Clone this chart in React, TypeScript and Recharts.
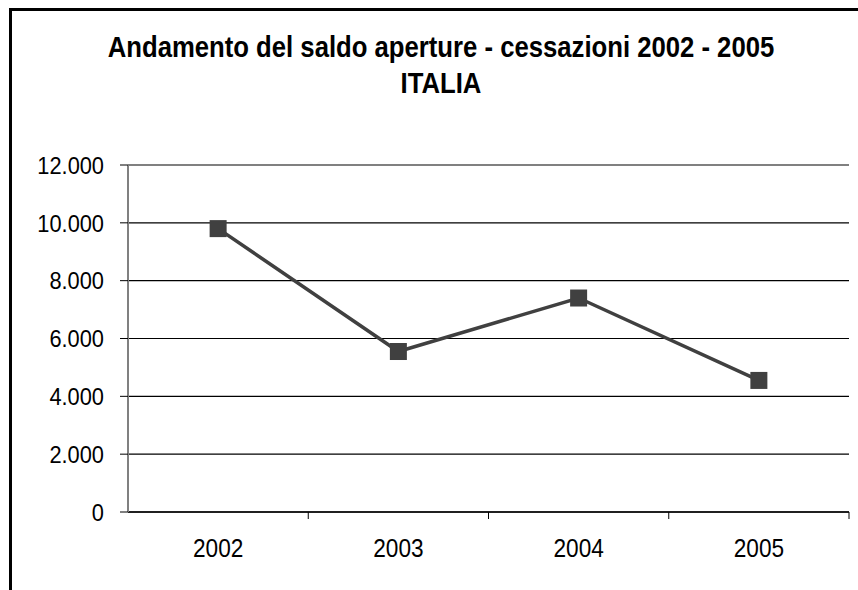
import { LineChart, Line, XAxis, YAxis, CartesianGrid, ReferenceLine } from "recharts";

const years = ["2002", "2003", "2004", "2005"];
const saldo = [9800, 5550, 7400, 4550];
const yTicks = [0, 2000, 4000, 6000, 8000, 10000, 12000];
const titleLines = ["Andamento del saldo aperture - cessazioni 2002 - 2005", "ITALIA"];

const data = years.map((year, i) => ({ year, saldo: saldo[i] }));

const FONT = "'Liberation Sans', Arial, sans-serif";
const X_TICK_SIZE = 7;
const X_TICK_MARGIN = 19;

const fmt = (v: number) => String(v).replace(/\B(?=(\d{3})+(?!\d))/g, ".");

// narrow-looking labels: Arial squeezed horizontally
const YTick = (props: any) => {
  const { x, y, payload } = props;
  return (
    <g transform={`translate(${x},${y}) scale(0.89,1)`}>
      <text x={0} y={0} dy="0.36em" textAnchor="end" fontSize={24.5} fontFamily={FONT} fill="#000">
        {fmt(payload.value)}
      </text>
    </g>
  );
};

// label in the middle of the band, tick marks on the band edges
const XTick = (props: any) => {
  const { x, y, payload, index, visibleTicksCount } = props;
  const half = payload.offset || 0;
  const axisY = y - X_TICK_SIZE - X_TICK_MARGIN;
  const last = index === visibleTicksCount - 1;
  return (
    <g>
      {half > 0 && index > 0 && (
        <line x1={x - half} x2={x - half} y1={axisY} y2={axisY + X_TICK_SIZE} stroke="#000" strokeWidth={1} />
      )}
      {half > 0 && last && (
        <line x1={x + half} x2={x + half} y1={axisY} y2={axisY + X_TICK_SIZE} stroke="#000" strokeWidth={1} />
      )}
      <g transform={`translate(${x},${y}) scale(0.87,1)`}>
        <text x={0} y={0} dy="0.72em" textAnchor="middle" fontSize={26} fontFamily={FONT} fill="#000">
          {payload.value}
        </text>
      </g>
    </g>
  );
};

const SquareDot = (props: any) => {
  const { cx, cy, index } = props;
  if (cx == null || cy == null) return <g key={index} />;
  return <rect key={index} x={cx - 8.5} y={cy - 8.5} width={17} height={17} fill="#404040" />;
};

export default function App() {
  return (
    <div
      style={{
        position: "absolute",
        left: 0,
        top: 0,
        width: 858,
        height: 590,
        overflow: "hidden",
        background: "#fff",
        fontFamily: FONT,
      }}
    >
      <div
        style={{
          position: "absolute",
          left: 9,
          top: 8,
          width: 1000,
          height: 1000,
          border: "3px solid #000",
        }}
      />
      <div
        style={{
          position: "absolute",
          left: 0,
          top: 29,
          width: 882,
          textAlign: "center",
          fontWeight: "bold",
          fontSize: 30,
          lineHeight: "36px",
          color: "#000",
        }}
      >
        {titleLines.map((t) => (
          <div key={t} style={{ transform: "scaleX(0.856)" }}>
            {t}
          </div>
        ))}
      </div>
      <div style={{ position: "absolute", left: 0, top: 0 }}>
        <LineChart
          width={858}
          height={590}
          data={data}
          margin={{ top: 165, right: 9, left: 0, bottom: 0 }}
        >
          <CartesianGrid vertical={false} stroke="#000" strokeWidth={1.2} />
          <XAxis
            dataKey="year"
            scale="band"
            height={78}
            axisLine={{ stroke: "#000", strokeWidth: 1.5 }}
            tickLine={false}
            tickSize={X_TICK_SIZE}
            tickMargin={X_TICK_MARGIN}
            tick={<XTick />}
          />
          <YAxis
            width={128}
            domain={[0, 12000]}
            ticks={yTicks}
            interval={0}
            tickSize={8}
            tickMargin={16}
            axisLine={{ stroke: "#808080", strokeWidth: 2 }}
            tickLine={{ stroke: "#000", strokeWidth: 1 }}
            tick={<YTick />}
          />
          <YAxis
            yAxisId="r"
            orientation="right"
            width={0}
            domain={[0, 12000]}
            tick={false}
            tickLine={false}
            axisLine={{ stroke: "#808080", strokeWidth: 2 }}
          />
          <ReferenceLine y={12000} stroke="#808080" strokeWidth={2} />
          <Line
            type="linear"
            dataKey="saldo"
            stroke="#404040"
            strokeWidth={3.5}
            dot={SquareDot}
            activeDot={false}
            isAnimationActive={false}
          />
        </LineChart>
      </div>
    </div>
  );
}
